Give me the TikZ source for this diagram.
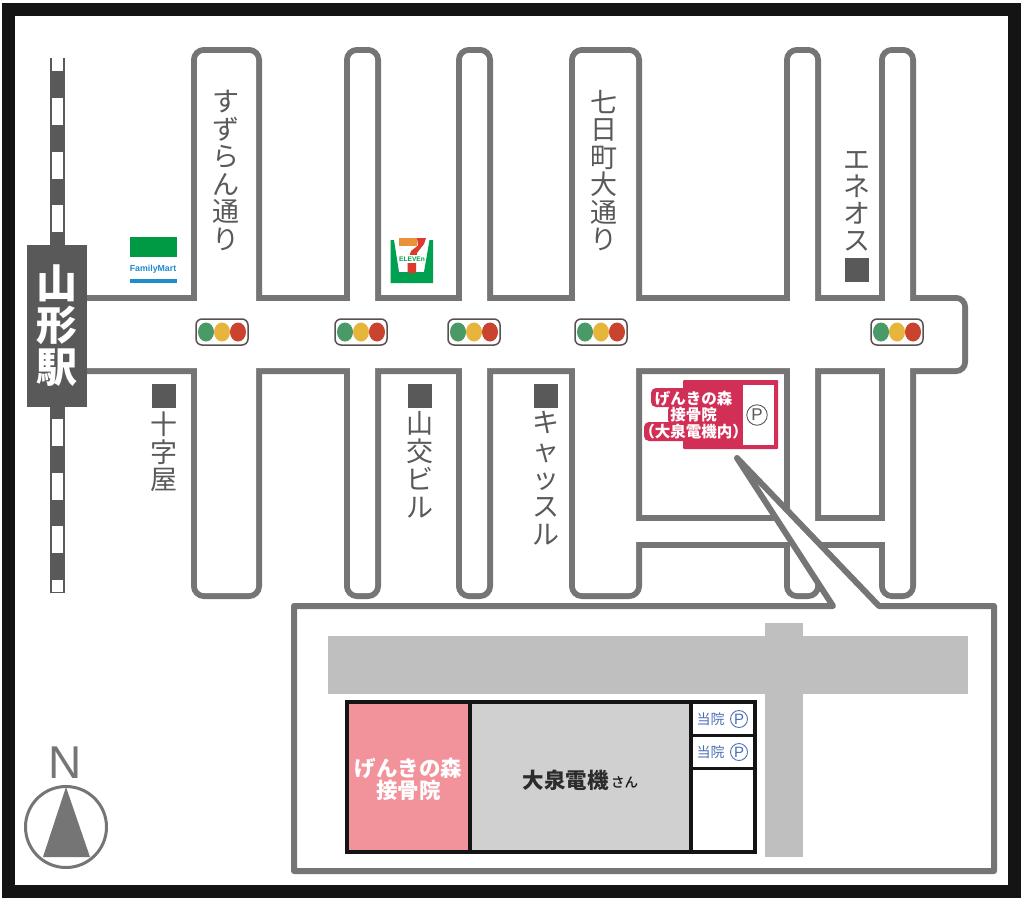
\documentclass[tikz,border=0pt]{standalone}
\usepackage{fontspec}
\setmainfont{Liberation Sans}
\newfontfamily\jp{Noto Sans CJK JP}
\newfontfamily\jpm{Noto Sans CJK JP Medium}
\definecolor{roadc}{HTML}{757575}
\definecolor{darkc}{HTML}{595959}
\definecolor{framec}{HTML}{141414}
\definecolor{crim}{HTML}{D22F57}
\definecolor{pinkc}{HTML}{F2929B}
\definecolor{bldg}{HTML}{D0D0D0}
\definecolor{paleroad}{HTML}{BFBFBF}
\definecolor{bluec}{HTML}{4A70B4}
\definecolor{tg}{HTML}{4A9A68}
\definecolor{ty}{HTML}{E8B53C}
\definecolor{tr}{HTML}{C9432F}
\definecolor{tb}{HTML}{5A5050}
\definecolor{fmg}{HTML}{009A44}
\definecolor{fmb}{HTML}{1F8CCB}
\definecolor{seg}{HTML}{00A051}
\definecolor{seo}{HTML}{EA9239}
\definecolor{ser}{HTML}{DB3A2C}
\tikzset{
  vlabel/.style={text=darkc,inner sep=0pt,align=center,font=\jp\fontsize{27}{27.5}\selectfont,anchor=north},
  marker/.style={fill=darkc,draw=none},
  circp/.style={circle,draw=#1,text=#1,inner sep=0pt,line width=0.9pt},
}
\newcommand{\tlight}[2]{%
  \draw[tb,line width=1.5pt,fill=white,rounded corners=6pt] (#1-26,#2-13) rectangle (#1+26,#2+13);
  \fill[tg] (#1-16,#2) ellipse [x radius=8,y radius=9.5];
  \fill[ty] (#1,#2) ellipse [x radius=8,y radius=9.5];
  \fill[tr] (#1+16,#2) ellipse [x radius=8,y radius=9.5];
}
\begin{document}
\begin{tikzpicture}[x=1pt,y=-1pt]
\useasboundingbox (0,0) rectangle (1024,903);
\fill[white] (0,0) rectangle (1024,903);
\draw[framec,line width=13pt] (8.5,9.5) rectangle (1014.5,891.5);
% rail
\fill[darkc] (49.5,58) rectangle (65,593);
\fill[white] (52,58) rectangle (62.5,71);
\foreach \y in {98,152,205,258,419,473,526}{\fill[white] (52,\y) rectangle (62.5,\y+27);}
\fill[white] (52,580) rectangle (62.5,592);
% roads: outlines, then interiors
\foreach \a/\b in {194/259,347/378,459/490,572/639,787/818,882/913}{
  \draw[roadc,line width=6pt,rounded corners=10pt] (\a,50) rectangle (\b,596);}
\draw[roadc,line width=6pt,rounded corners=9pt] (70,298) rectangle (965,371);
\draw[roadc,line width=6pt] (600,518) rectangle (900,545);
\foreach \a/\b in {194/259,347/378,459/490,572/639,787/818,882/913}{
  \fill[white,rounded corners=7pt] (\a+3,53) rectangle (\b-3,593);}
\fill[white,rounded corners=6pt] (73,301) rectangle (962,368);
\fill[white] (603,521) rectangle (897,542);
% station
\node[fill=darkc,minimum width=60pt,minimum height=162pt,inner sep=0pt,text=white,align=center,
  font=\jp\bfseries\fontsize{41}{42}\selectfont] (station) at (57,326) {山\\形\\駅};
% road labels
\node[vlabel] (suzuran) at (226,90) {す\\ず\\ら\\ん\\通\\り};
\node[vlabel] (nanoka) at (604,90) {七\\日\\町\\大\\通\\り};
\node[vlabel,font=\jp\fontsize{27}{27}\selectfont] (eneos) at (857,151) {エ\\ネ\\オ\\ス};
\node[marker,minimum size=24pt,inner sep=0pt] (eneosm) at (857,270) {};
\node[marker,minimum size=24pt,inner sep=0pt] (jujim) at (164,396) {};
\node[vlabel,font=\jp\fontsize{27}{27.5}\selectfont] (juji) at (164,412) {十\\字\\屋};
\node[marker,minimum size=24pt,inner sep=0pt] (sankom) at (420,396) {};
\node[vlabel,font=\jp\fontsize{27}{28}\selectfont] (sanko) at (420,411) {山\\交\\ビ\\ル};
\node[marker,minimum size=24pt,inner sep=0pt] (castlem) at (546,396) {};
\node[vlabel,font=\jp\fontsize{27}{28}\selectfont] (castle) at (546,411) {キ\\ャ\\ッ\\ス\\ル};
% traffic lights
\tlight{222}{332}
\tlight{361}{332}
\tlight{474}{332}
\tlight{601}{332}
\tlight{897}{332}
% FamilyMart
\fill[fmg] (130,237) rectangle (176.5,257);
\fill[fmb] (130,279) rectangle (176.5,283);
\node[text=fmb,inner sep=0pt,font=\bfseries\fontsize{8.8}{9}\selectfont] (fm) at (153,269) {FamilyMart};
% 7-Eleven
\fill[seg] (390.5,240) -- (394,240) -- (399,272) -- (424,272) -- (429.5,240) -- (433,240) -- (433,283) -- (390.5,283) -- cycle;
\fill[seo] (398.5,238) rectangle (417,245.5);
\fill[ser] (417,238) -- (426,238) -- (424,244) -- (417,253) -- (416,262) -- (416,273) -- (407.5,273) -- (407.5,262) -- (411,251) -- (418,245.5) -- cycle;
\fill[white] (399,255) rectangle (425,263);
\node[text=seg,inner sep=0pt,font=\bfseries\fontsize{6.6}{7}\selectfont] (se) at (412,259) {ELEVEn};
% clinic on the map
\fill[crim,rounded corners=1pt] (683,380) rectangle (778,449);
\fill[crim,rounded corners=5pt] (651,388) rectangle (690,407);
\fill[crim,rounded corners=5pt] (668,405) rectangle (690,425);
\fill[crim,rounded corners=5pt] (644,422) rectangle (690,441);
\fill[white] (743,385) rectangle (774,445);
\node[circp=darkc,minimum size=20.5pt,font=\fontsize{17}{17}\selectfont] (parkmap) at (757,415) {P};
\node[text=white,inner sep=0pt,align=center,font=\jp\bfseries\fontsize{15.5}{16.5}\selectfont] (clinic) at (693.5,415) {げんきの森\\接骨院\\（大泉電機内）};
% callout box
\draw[roadc,line width=6pt,line join=round,fill=white] (833,606) -- (737,458) -- (879,606) -- (994,606) -- (994,871) -- (294,871) -- (294,606) -- cycle;
\fill[paleroad] (328,636) rectangle (968,694);
\fill[paleroad] (765,623) rectangle (803,857);
% building
\fill[pinkc] (347,702) rectangle (470,852);
\fill[bldg] (470,702) rectangle (691,852);
\fill[white] (691,702) rectangle (755,852);
\draw[framec,line width=3.2pt] (347,702) rectangle (755,852);
\draw[framec,line width=3.2pt] (470,702) -- (470,852);
\draw[framec,line width=3.2pt] (691,702) -- (691,852);
\draw[framec,line width=3.2pt] (691,735.5) -- (755,735.5);
\draw[framec,line width=3.2pt] (691,768.5) -- (755,768.5);
\node[text=white,inner sep=0pt,align=center,font=\jp\bfseries\fontsize{21.5}{22}\selectfont] (clinic2) at (408.5,779) {げんきの森\\接骨院};
\node[text=framec!90!white,inner sep=0pt,font=\jp\bfseries\fontsize{21.5}{21}\selectfont] (oizumi) at (565.5,780) {大泉電機};
\node[text=framec,inner sep=0pt,font=\jpm\fontsize{13.5}{13}\selectfont] (san) at (624.5,782) {さん};
\node[text=bluec,inner sep=0pt,font=\jp\fontsize{14}{14}\selectfont] (toin1) at (710.5,719) {当院};
\node[circp=bluec,minimum size=17pt,font=\fontsize{15}{15}\selectfont] (p1) at (739,719) {P};
\node[text=bluec,inner sep=0pt,font=\jp\fontsize{14}{14}\selectfont] (toin2) at (710.5,752) {当院};
\node[circp=bluec,minimum size=17pt,font=\fontsize{15}{15}\selectfont] (p2) at (739,752) {P};
% compass
\node[text=roadc,inner sep=0pt,anchor=base,font=\fontsize{46}{46}\selectfont] (north) at (65.5,778) {N};
\draw[roadc,line width=3pt] (66,827) circle [radius=40.5];
\fill[roadc] (66,787) -- (90,857) -- (43,857) -- cycle;
\end{tikzpicture}
\end{document}
